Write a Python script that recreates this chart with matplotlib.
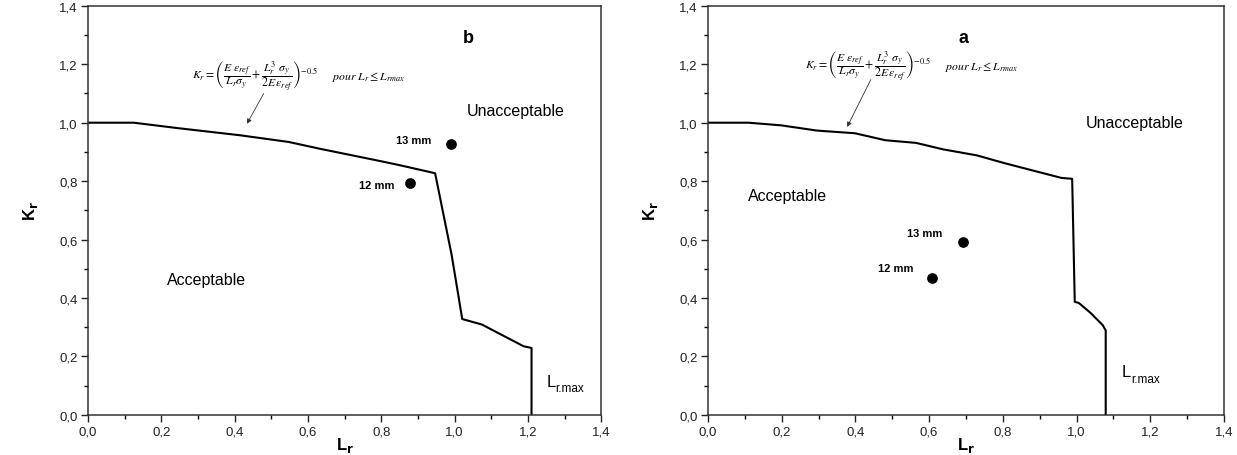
import numpy as np
import matplotlib
matplotlib.use('Agg')
import matplotlib.pyplot as plt
from matplotlib.ticker import MultipleLocator, FuncFormatter

plt.rcParams['font.family'] = ['Liberation Sans', 'DejaVu Sans']
plt.rcParams['mathtext.fontset'] = 'stix'

# panel b (left)
b_lr = [0.0, 0.125, 0.248, 0.415, 0.548, 0.632, 0.80, 0.849, 0.947, 0.992, 1.021, 1.075, 1.188, 1.21, 1.21]
b_kr = [1.0, 1.0, 0.981, 0.957, 0.934, 0.911, 0.868, 0.855, 0.827, 0.548, 0.328, 0.309, 0.235, 0.229, 0.0]
b_pts_lr = [0.878, 0.991]
b_pts_kr = [0.793, 0.926]

# panel a (right)
a_lr = [0.0, 0.11, 0.198, 0.296, 0.398, 0.481, 0.564, 0.637, 0.73, 0.803, 0.959, 0.988, 0.995, 1.006, 1.037, 1.071, 1.079, 1.079]
a_kr = [1.0, 1.0, 0.991, 0.973, 0.964, 0.94, 0.931, 0.909, 0.888, 0.862, 0.811, 0.808, 0.387, 0.383, 0.35, 0.307, 0.289, 0.0]
a_pts_lr = [0.608, 0.693]
a_pts_kr = [0.469, 0.59]

pt_labels = ['12 mm', '13 mm']

formula = (r'$K_r = \left(\dfrac{E\ \varepsilon_{ref}}{L_r\sigma_y} + '
           r'\dfrac{L_r^3\ \sigma_y}{2E\,\varepsilon_{ref}}\right)^{-0.5}$')
pour = r'$pour\ L_r \leq L_{rmax}$'

comma = FuncFormatter(lambda v, p: ('%.1f' % v).replace('.', ','))

fig = plt.figure(figsize=(12.37, 4.56), dpi=100)
axb = fig.add_axes([0.0711, 0.088, 0.4149, 0.897])
axa = fig.add_axes([0.5724, 0.088, 0.4171, 0.897])


def setup(ax):
    ax.set_xlim(0, 1.4)
    ax.set_ylim(0, 1.4)
    ax.xaxis.set_major_locator(MultipleLocator(0.2))
    ax.xaxis.set_minor_locator(MultipleLocator(0.1))
    ax.yaxis.set_major_locator(MultipleLocator(0.2))
    ax.yaxis.set_minor_locator(MultipleLocator(0.1))
    ax.xaxis.set_major_formatter(comma)
    ax.yaxis.set_major_formatter(comma)
    ax.tick_params(which='major', length=5, width=1, labelsize=9.5, colors='#222222', pad=2.5)
    ax.tick_params(which='minor', length=3, width=1)
    for s in ax.spines.values():
        s.set_linewidth(1.1)
        s.set_color('#333333')
    ax.set_xlabel(r'L$_\mathbf{r}$', fontsize=12, fontweight='bold',
                  math_fontfamily='dejavusans')
    ax.xaxis.set_label_coords(0.5, -0.05)
    ax.set_ylabel(r'K$_\mathbf{r}$', fontsize=12, fontweight='bold', labelpad=14,
                  math_fontfamily='dejavusans')


def lrmax(ax, x, y):
    ax.text(x, y, 'L', fontsize=12, va='center')
    ax.annotate('r.max', xy=(x, y), xytext=(6.8, -5), textcoords='offset points',
                fontsize=8.5, va='center')


# --- b ---
setup(axb)
axb.plot(b_lr, b_kr, color='black', lw=1.5)
axb.scatter(b_pts_lr, b_pts_kr, s=45, color='black', zorder=3)
axb.text(0.837, 0.788, pt_labels[0], fontsize=8, fontweight='bold', ha='right', va='center')
axb.text(0.937, 0.941, pt_labels[1], fontsize=8, fontweight='bold', ha='right', va='center')
axb.text(0.216, 0.462, 'Acceptable', fontsize=11.5, va='center')
axb.text(1.034, 1.043, 'Unacceptable', fontsize=11.5, va='center')
lrmax(axb, 1.25, 0.115)
axb.text(1.037, 1.293, 'b', fontsize=13, fontweight='bold', ha='center', va='center')
axb.text(0.284, 1.16, formula, fontsize=8.5, va='center')
axb.text(0.666, 1.16, pour, fontsize=8.5, va='center')
axb.annotate('', xy=(0.43, 0.988), xytext=(0.483, 1.108),
             arrowprops=dict(arrowstyle='-|>', color='#333333', lw=0.6,
                             mutation_scale=7))

# --- a ---
setup(axa)
axa.plot(a_lr, a_kr, color='black', lw=1.5)
axa.scatter(a_pts_lr, a_pts_kr, s=45, color='black', zorder=3)
axa.text(0.557, 0.504, pt_labels[0], fontsize=8, fontweight='bold', ha='right', va='center')
axa.text(0.637, 0.623, pt_labels[1], fontsize=8, fontweight='bold', ha='right', va='center')
axa.text(0.108, 0.752, 'Acceptable', fontsize=11.5, va='center')
axa.text(1.025, 0.999, 'Unacceptable', fontsize=11.5, va='center')
lrmax(axa, 1.123, 0.147)
axa.text(0.692, 1.293, 'a', fontsize=13, fontweight='bold', ha='center', va='center')
axa.text(0.263, 1.193, formula, fontsize=8.5, va='center')
axa.text(0.643, 1.193, pour, fontsize=8.5, va='center')
axa.annotate('', xy=(0.374, 0.977), xytext=(0.445, 1.156),
             arrowprops=dict(arrowstyle='-|>', color='#333333', lw=0.6,
                             mutation_scale=7))

fig.savefig('out.png', dpi=100)
